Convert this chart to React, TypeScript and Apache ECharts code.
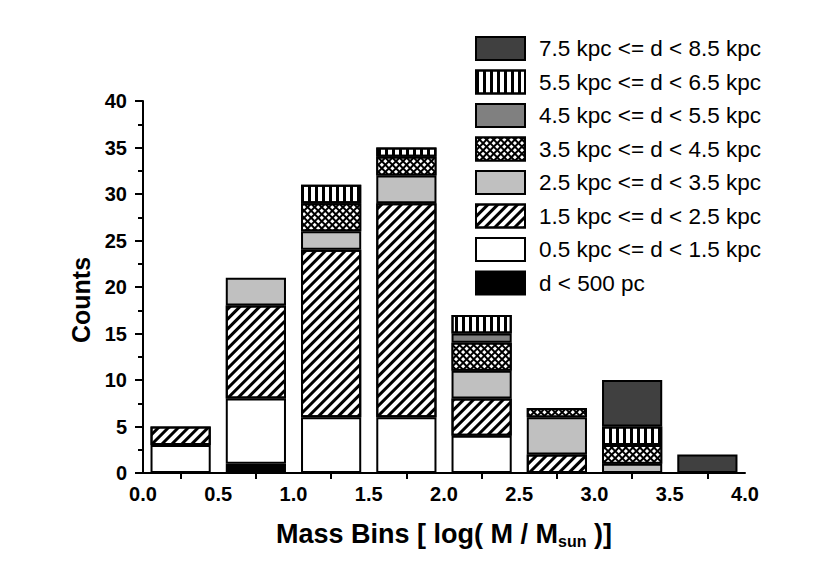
import React, { useEffect, useRef } from "react";
import * as echarts from "echarts";

const binCenters = ["0.25", "0.75", "1.25", "1.75", "2.25", "2.75", "3.25", "3.75"];
const xTickLabels = ["0.0", "0.5", "1.0", "1.5", "2.0", "2.5", "3.0", "3.5", "4.0"];

const seriesNames = [
  "d < 500 pc",
  "0.5 kpc <= d < 1.5 kpc",
  "1.5 kpc <= d < 2.5 kpc",
  "2.5 kpc <= d < 3.5 kpc",
  "3.5 kpc <= d < 4.5 kpc",
  "4.5 kpc <= d < 5.5 kpc",
  "5.5 kpc <= d < 6.5 kpc",
  "7.5 kpc <= d < 8.5 kpc",
];

const dLt500 = [0, 1, 0, 0, 0, 0, 0, 0];
const d05to15 = [3, 7, 6, 6, 4, 0, 0, 0];
const d15to25 = [2, 10, 18, 23, 4, 2, 0, 0];
const d25to35 = [0, 3, 2, 3, 3, 4, 1, 0];
const d35to45 = [0, 0, 3, 2, 3, 1, 2, 0];
const d45to55 = [0, 0, 0, 0, 1, 0, 0, 0];
const d55to65 = [0, 0, 2, 1, 2, 0, 2, 0];
const d75to85 = [0, 0, 0, 0, 0, 0, 5, 2];

const seriesValues = [dLt500, d05to15, d15to25, d25to35, d35to45, d45to55, d55to65, d75to85];

const FONT = "Liberation Sans, Arial, Helvetica, sans-serif";

const styles: any[] = [
  { color: "#000000" },
  { color: "#ffffff" },
  {
    color: "#ffffff",
    decal: {
      color: "#000000",
      symbol: "rect",
      symbolSize: 1,
      dashArrayX: [1, 0],
      dashArrayY: [2.6, 3.2],
      rotation: -Math.PI / 4,
    },
  },
  { color: "#c0c0c0" },
  {
    color: "#000000",
    decal: {
      color: "#ffffff",
      symbol: "rect",
      symbolSize: 1,
      dashArrayX: [2.4, 1.8],
      dashArrayY: [2.4, 1.8],
      rotation: Math.PI / 4,
    },
  },
  { color: "#808080" },
  {
    color: "#ffffff",
    decal: {
      color: "#000000",
      symbol: "rect",
      symbolSize: 1,
      dashArrayX: [2.4, 3.6],
      dashArrayY: [1, 0],
      rotation: 0,
    },
  },
  { color: "#404040" },
];

export default function App() {
  const ref = useRef<HTMLDivElement>(null);

  useEffect(() => {
    if (!ref.current) return;
    const chart = echarts.init(ref.current, null, { renderer: "svg" });

    const series = seriesNames.map((name, i) => ({
      name,
      type: "bar",
      stack: "total",
      xAxisIndex: 0,
      barWidth: "80%",
      itemStyle: {
        ...styles[i],
        borderColor: "#000",
        borderWidth: 2,
      },
      emphasis: { disabled: true },
      data: seriesValues[i].map((v) => (v === 0 ? "-" : v)),
    }));

    chart.setOption({
      animation: false,
      backgroundColor: "#ffffff",
      grid: { left: 143, right: 85, top: 101, bottom: 107, containLabel: false },
      legend: {
        orient: "vertical",
        left: 475,
        top: 36,
        padding: 0,
        itemWidth: 49,
        itemHeight: 23,
        itemGap: 8.5,
        icon: "rect",
        data: [...seriesNames].reverse(),
        itemStyle: { borderColor: "#000", borderWidth: 2 },
        textStyle: {
          fontFamily: FONT,
          fontSize: 22.5,
          lineHeight: 23,
          color: "#000",
          padding: [0, 0, 0, 9],
        },
        selectedMode: false,
      },
      xAxis: [
        {
          type: "category",
          data: binCenters,
          boundaryGap: true,
          axisLine: { show: true, lineStyle: { color: "#000", width: 2 } },
          axisTick: { show: true, alignWithLabel: true, length: 6, lineStyle: { color: "#000", width: 2 } },
          axisLabel: { show: false },
          splitLine: { show: false },
          z: 10,
        },
        {
          type: "value",
          min: 0,
          max: 4,
          interval: 0.5,
          position: "bottom",
          axisLine: { show: false },
          axisTick: { show: false },
          splitLine: { show: false },
          axisLabel: {
            margin: 11,
            fontFamily: FONT,
            fontSize: 20,
            fontWeight: "bold",
            color: "#000",
            formatter: (v: number) => xTickLabels[Math.round(v / 0.5)] ?? "",
          },
          name: "Mass Bins [ log( M / M{sub|sun} )]",
          nameLocation: "middle",
          nameGap: 46,
          nameTextStyle: {
            fontFamily: FONT,
            fontSize: 27,
            fontWeight: "bold",
            color: "#000",
            rich: {
              sub: {
                fontFamily: FONT,
                fontSize: 16,
                fontWeight: "bold",
                color: "#000",
                verticalAlign: "bottom",
                padding: [14, 0, 0, 0],
              },
            },
          },
        },
      ],
      yAxis: {
        type: "value",
        min: 0,
        max: 40,
        interval: 5,
        axisLine: { show: true, lineStyle: { color: "#000", width: 2 } },
        axisTick: { show: true, inside: false, length: 8, lineStyle: { color: "#000", width: 2 } },
        minorTick: { show: true, splitNumber: 2, length: 5, lineStyle: { color: "#000", width: 2 } },
        splitLine: { show: false },
        axisLabel: {
          margin: 16,
          fontFamily: FONT,
          fontSize: 20,
          fontWeight: "bold",
          color: "#000",
        },
        name: "Counts",
        nameLocation: "middle",
        nameGap: 46,
        nameTextStyle: {
          fontFamily: FONT,
          fontSize: 25,
          fontWeight: "bold",
          color: "#000",
          padding: [0, 26, 0, 0],
        },
        z: 10,
      },
      series,
    });

    return () => chart.dispose();
  }, []);

  return (
    <div
      ref={ref}
      style={{ position: "fixed", left: 0, top: 0, width: 830, height: 580, background: "#fff" }}
    />
  );
}
